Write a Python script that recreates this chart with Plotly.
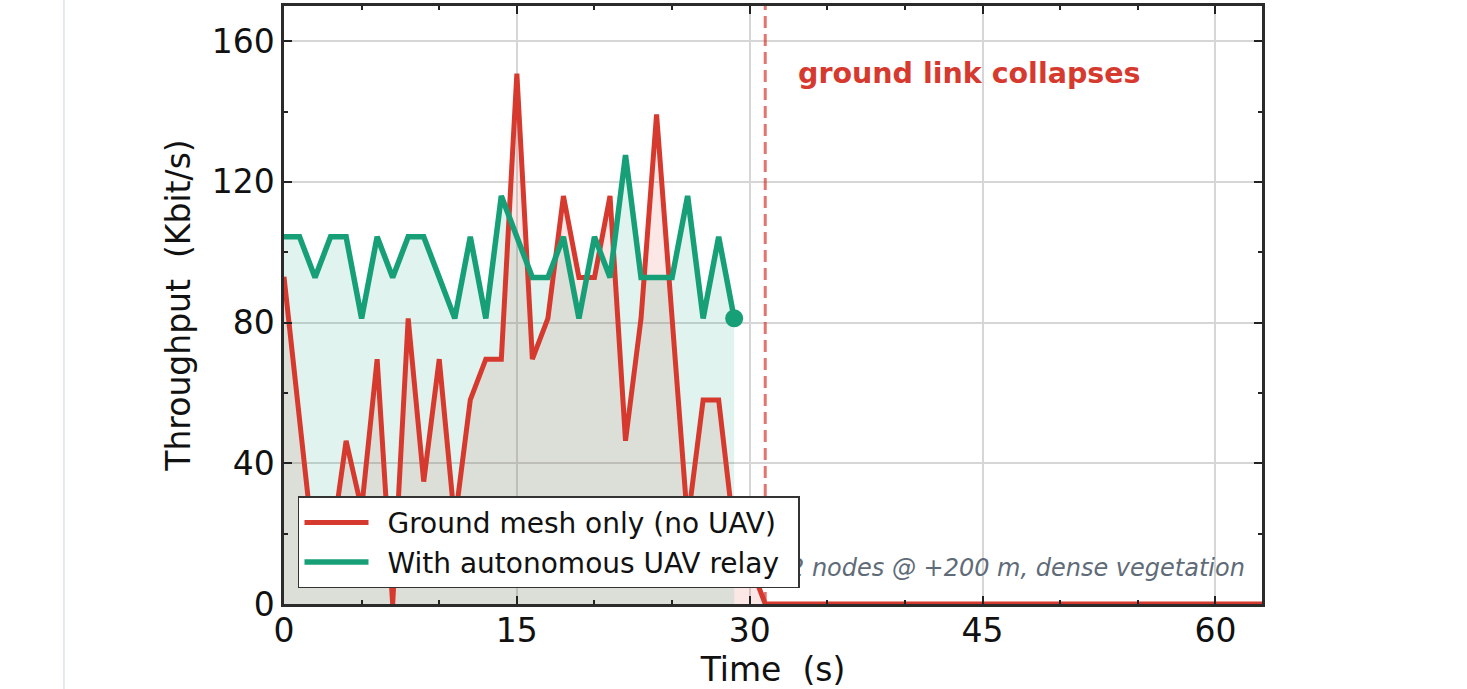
import plotly.graph_objects as go

# ---------------- data ----------------
time_ground = list(range(0, 32)) + [63]
ground_kbps = [93.0, 52.0, 12.0, 15.0, 46.4, 27.0, 69.6, 0.0, 81.2, 34.8,
               69.6, 23.2, 58.0, 69.6, 69.6, 150.8, 69.6, 81.2, 116.0, 92.8,
               92.8, 116.0, 46.4, 81.2, 139.2, 81.2, 23.2, 58.0, 58.0, 20.0,
               11.6, 0.0, 0.0]
time_uav = list(range(0, 30))
uav_kbps = [104.4, 104.4, 92.8, 104.4, 104.4, 81.2, 104.4, 92.8, 104.4, 104.4,
            92.8, 81.2, 104.4, 81.2, 116.0, 104.4, 92.8, 92.8, 104.4, 81.2,
            104.4, 92.8, 127.6, 92.8, 92.8, 92.8, 116.0, 81.2, 104.4, 81.2]
collapse_t = 31
x_ticks = [0, 15, 30, 45, 60]
y_ticks = [0, 40, 80, 120, 160]
series_names = ["Ground mesh only (no UAV)", "With autonomous UAV relay"]
note_text = "12 nodes @ +200 m, dense vegetation"
collapse_text = "ground link collapses"

RED = "#d63a2f"
GREEN = "#17a078"
FONT = "DejaVu Sans"
PAD = "\u2002"

fig = go.Figure()
# fills (beneath all lines)
fig.add_trace(go.Scatter(x=time_ground, y=ground_kbps, mode="lines", fill="tozeroy",
                         fillcolor="rgba(214,58,47,0.12)", line=dict(width=0, color=RED),
                         showlegend=False, hoverinfo="skip"))
fig.add_trace(go.Scatter(x=time_uav, y=uav_kbps, mode="lines", fill="tozeroy",
                         fillcolor="rgba(23,160,120,0.13)", line=dict(width=0, color=GREEN),
                         showlegend=False, hoverinfo="skip"))
# scenario note (as a text trace so the legend sits above it)
fig.add_trace(go.Scatter(x=[61.9], y=[9.7], mode="text", text=[note_text],
                         textposition="middle left", cliponaxis=False,
                         textfont=dict(family=FONT, size=24, color="#5f6b78", style="italic"),
                         showlegend=False, hoverinfo="skip"))
# lines
fig.add_trace(go.Scatter(x=time_ground, y=ground_kbps, mode="lines",
                         name=PAD + series_names[0] + PAD,
                         line=dict(color=RED, width=5)))
fig.add_trace(go.Scatter(x=time_uav, y=uav_kbps, mode="lines",
                         name=PAD + series_names[1] + PAD,
                         line=dict(color=GREEN, width=5.5)))
fig.add_trace(go.Scatter(x=time_uav[-1:], y=uav_kbps[-1:], mode="markers",
                         marker=dict(color=GREEN, size=18), showlegend=False,
                         cliponaxis=False))

# collapse marker line
fig.add_shape(type="line", xref="x", yref="paper", x0=collapse_t, x1=collapse_t,
              y0=0, y1=1, line=dict(color="rgba(214,58,47,0.7)", width=3, dash="12px,6px"))
# thin page-frame line at left
fig.add_shape(type="line", xref="paper", yref="paper", x0=-0.225, x1=-0.225,
              y0=-0.15, y1=1.01, line=dict(color="#dbe2ee", width=1.5))

fig.add_annotation(x=collapse_t + 2, y=150.7, xref="x", yref="y", text=collapse_text,
                   showarrow=False, xanchor="left", yanchor="middle",
                   font=dict(family=FONT, size=28.5, color=RED, weight="bold"))

axis_common = dict(
    showline=True, linecolor="#2b2b2b", linewidth=2.5, mirror="ticks",
    ticks="inside", ticklen=8, tickwidth=2, tickcolor="#222",
    showgrid=True, gridcolor="#d6d6d6", gridwidth=1.5, zeroline=False,
    tickfont=dict(family=FONT, size=33, color="#111"),
)
fig.update_xaxes(range=[0, 63], tickvals=x_ticks, **axis_common, ticklabelstandoff=-4,
                 minor=dict(dtick=5, ticks="inside", ticklen=4, tickwidth=1.5,
                            tickcolor="#222", showgrid=False),
                 title=dict(text="Time  (s)", font=dict(family=FONT, size=33, color="#111"),
                            standoff=6))
fig.update_yaxes(range=[0, 170], tickvals=y_ticks, **axis_common,
                 minor=dict(dtick=20, ticks="inside", ticklen=4, tickwidth=1.5,
                            tickcolor="#222", showgrid=False),
                 title=dict(text="Throughput  (Kbit/s)",
                            font=dict(family=FONT, size=33, color="#111"), standoff=12))

fig.update_layout(
    width=1467, height=689,
    margin=dict(l=284, r=205, t=3, b=85),
    paper_bgcolor="white", plot_bgcolor="white",
    font=dict(family=FONT, color="#111"),
    legend=dict(x=0.0143, y=0.18, xanchor="left", yanchor="top",
                bgcolor="white", bordercolor="#333", borderwidth=1.5,
                font=dict(family=FONT, size=28, color="#111"), itemwidth=64),
    showlegend=True,
)

fig.write_html("out.html")
